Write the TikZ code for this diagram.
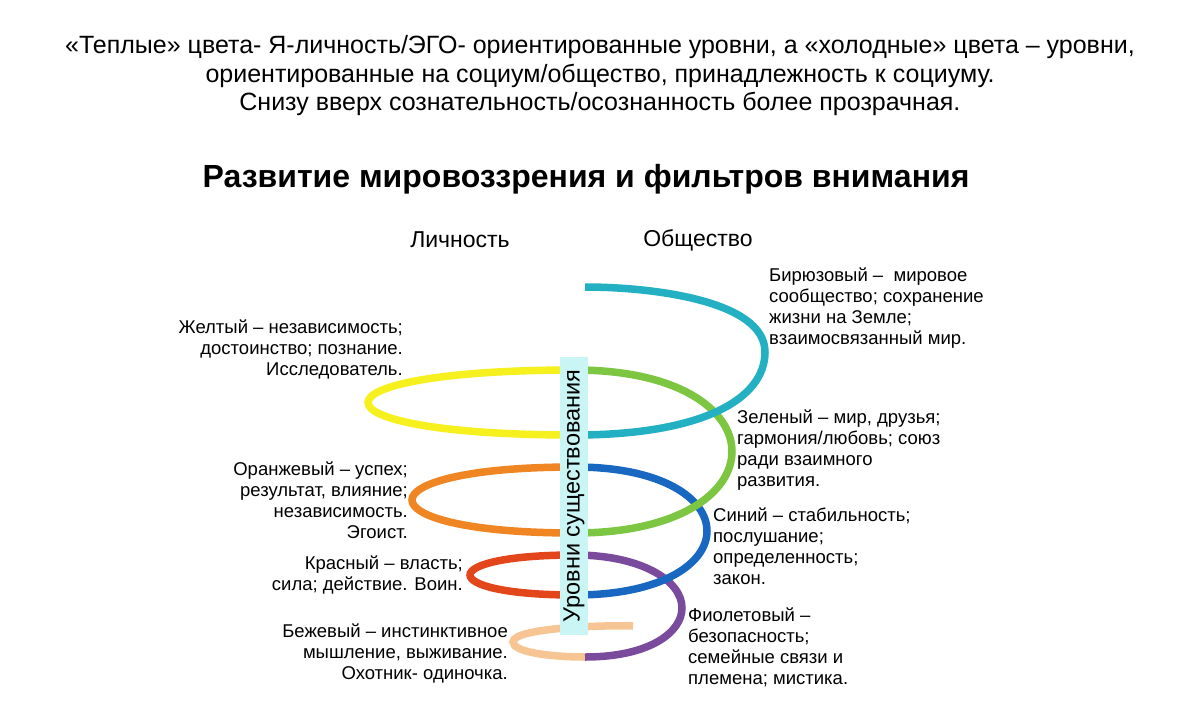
\documentclass[tikz,border=0pt]{standalone}
\usepackage{fontspec}
\setmainfont{Liberation Sans}
\begin{document}
\begin{tikzpicture}[x=1pt,y=-1pt,
  sp/.style={line width=7.5pt},
  lab/.style={font=\fontsize{18.5}{21}\selectfont,inner sep=0pt},
  labl/.style={lab,align=right,anchor=north east},
  labr/.style={lab,align=left,anchor=north west}]
\useasboundingbox (0,0) rectangle (1200,723);
\definecolor{cteal}{HTML}{22B0C2}\definecolor{cyel}{HTML}{F5F01E}
\definecolor{cgreen}{HTML}{7CC642}\definecolor{cblue}{HTML}{1868C2}
\definecolor{corange}{HTML}{F08524}\definecolor{cred}{HTML}{E4461C}
\definecolor{cpurp}{HTML}{7A4B9C}\definecolor{cbeige}{HTML}{F7C493}
\definecolor{cbox}{HTML}{C9F6F4}
\node[font=\fontsize{25}{28.5}\selectfont,align=center] (hdr) at (600,76) {«Теплые» цвета- Я-личность/ЭГО- ориентированные уровни, а «холодные» цвета – уровни,\\ориентированные на социум/общество, принадлежность к социуму.\\Снизу вверх сознательность/осознанность более прозрачная.};
\node[font=\fontsize{32}{34}\bfseries\selectfont] (title) at (586,179) {Развитие мировоззрения и фильтров внимания};
\node[font=\fontsize{23}{25}\selectfont] (lich) at (460,240) {Личность};
\node[font=\fontsize{23}{25}\selectfont] (obsh) at (698,240) {Общество};
\def\L#1#2#3#4{\draw[sp,#1] (575,#2) .. controls ({575-4/3*(575-#4)},#2) and ({575-4/3*(575-#4)},#3) .. (575,#3);}
\def\R#1#2#3#4{\draw[sp,#1] (575,#2) .. controls ({575+4/3*(#4-575)},#2) and ({575+4/3*(#4-575)},#3) .. (575,#3);}
\draw[sp,cbeige] (633,626) .. controls (600,625) and (513,628) .. (513,642) .. controls (513,652) and (550,657) .. (585,657);
\draw[sp,cpurp] (585,657) .. controls (650,657) and (682,632) .. (682,608) .. controls (682,580) and (640,555) .. (575,555);
\L{cred}{555}{595}{470}
\R{cblue}{595}{467}{707}
\L{corange}{467}{533}{412}
\R{cgreen}{533}{370}{732}
\L{cyel}{370}{435}{368}
\draw[sp,cteal] (575,435) .. controls (700,435) and (765,400) .. (765,352) .. controls (765,300) and (650,287) .. (585,287);
\node[fill=cbox,minimum width=28pt,minimum height=278pt,inner sep=0pt] (box) at (574,496) {};
\node[rotate=90,font=\fontsize{23.5}{25}\selectfont] (boxt) at (box.center) {Уровни существования};
\node[labr] (t) at (769,268) {Бирюзовый –\ \ мировое\\сообщество; сохранение\\жизни на Земле;\\взаимосвязанный мир.};
\node[labl] (y) at (403,320) {Желтый – независимость;\\достоинство; познание.\\Исследователь.};
\node[labr] (g) at (737,410) {Зеленый – мир, друзья;\\гармония/любовь; союз\\ради взаимного\\развития.};
\node[labl] (o) at (408,462) {Оранжевый – успех;\\результат, влияние;\\независимость.\\Эгоист.};
\node[labr] (b) at (713,508) {Синий – стабильность;\\послушание;\\определенность;\\закон.};
\node[labl] (r) at (463,556) {Красный – власть;\\сила; действие. Воин.};
\node[labl] (be) at (508,624) {Бежевый – инстинктивное\\мышление, выживание.\\Охотник- одиночка.};
\node[labr] (p) at (688,608) {Фиолетовый –\\безопасность;\\семейные связи и\\племена; мистика.};
\end{tikzpicture}
\end{document}
